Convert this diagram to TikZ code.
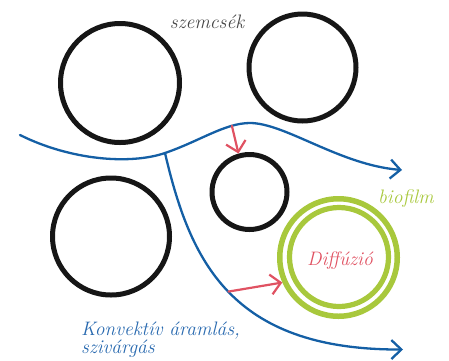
\documentclass[tikz,border=0pt]{standalone}
\usepackage{fontspec}
\usetikzlibrary{arrows.meta}
\definecolor{flowblue}{RGB}{20,95,165}
\definecolor{textblue}{RGB}{40,105,175}
\definecolor{biogreen}{RGB}{168,200,60}
\definecolor{diffred}{RGB}{224,82,98}
\definecolor{graytext}{RGB}{70,70,70}
\definecolor{grainblack}{RGB}{22,22,22}
\tikzset{
  grain/.style={draw=grainblack, circle, line width=5pt, inner sep=0pt},
  film/.style={draw=biogreen, circle, line width=5.5pt, inner sep=0pt},
  flow/.style={draw=flowblue, line width=2.3pt, line cap=round},
  flowtip/.style={-{Straight Barb[length=10pt,width=19pt]}},
  diff/.style={draw=diffred, line width=2.2pt, line cap=round, -{Straight Barb[length=10pt,width=20pt]}},
  lbl/.style={font=\fontsize{19.5}{19.5}\selectfont\itshape, inner sep=0pt}
}
\begin{document}
\begin{tikzpicture}[x=1pt,y=-1pt]
\useasboundingbox (0,0) rectangle (449,360);
% grains
\node[grain, minimum size=119pt] (c1) at (120,83) {};
\node[grain, minimum size=107pt] (c2) at (302.5,67.5) {};
\node[grain, minimum size=75pt] (c3) at (249.5,192) {};
\node[grain, minimum size=117pt] (c4) at (111,236.5) {};
% biofilm
\node[film, minimum size=117.5pt] (g1) at (338.5,257.5) {};
\node[film, minimum size=99pt, line width=5.2pt] (g2) at (339,257) {};
% flows
\draw[flow, flowtip] (20,135) .. controls (70,160) and (130,165) .. (165,153)
  coordinate (b)
  .. controls (200,141) and (225,123) .. coordinate[pos=0.76] (r1) (250,123)
  .. controls (285,123) and (340,165) .. (402,170);
\draw[flow, flowtip] (b) .. controls (190,260) and (230,350) .. coordinate[pos=0.5] (r2) (403,349.5);
% diffusion arrows
\draw[diff] (r1) -- (c3.106);
\draw[diff] (r2) -- (g1.204);
% labels
\node[lbl, text=graytext] (t1) at (207,22) {szemcsék};
\node[lbl, text=biogreen] (t2) at (406,199) {biofilm};
\node[lbl, text=diffred] (t3) at (340,261) {Diffúzió};
\node[lbl, text=textblue, anchor=base west] (t4) at (81,335) {Konvektív áramlás,};
\node[lbl, text=textblue, anchor=base west] (t5) at (81,353) {szivárgás};
\end{tikzpicture}
\end{document}
